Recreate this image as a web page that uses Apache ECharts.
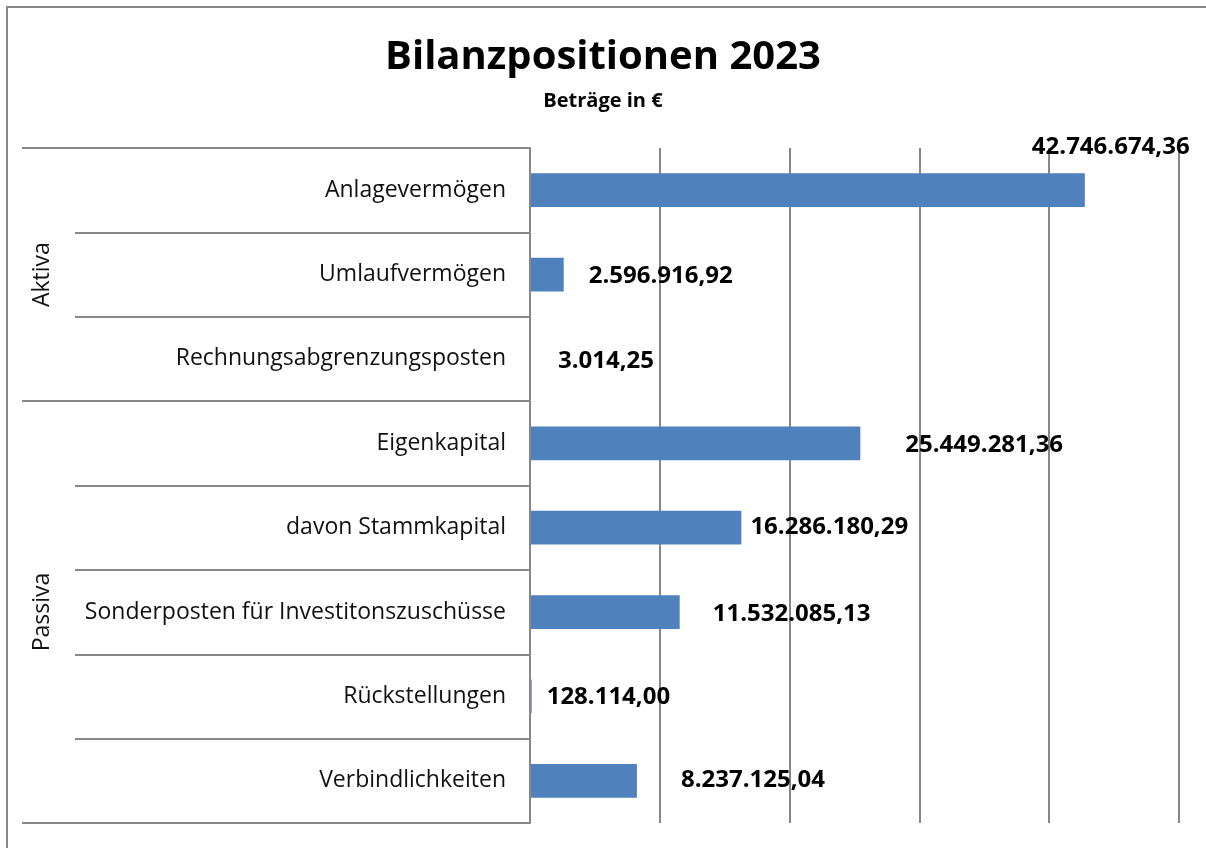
<!DOCTYPE html>
<html lang="de">
<head>
    <meta charset="UTF-8">
    <script src="https://cdn.jsdelivr.net/npm/echarts@6/dist/echarts.min.js"></script>
    <title>Bilanzpositionen 2023</title>
    <style>
        html, body { height: 100%; margin: 0; padding: 0; background: #fff; }
        #chart { width: 1206px; height: 848px; }
    </style>
</head>
<body>
<div id="chart"></div>
<script>
    // Daten
    var categories = [
        'Anlagevermögen', 'Umlaufvermögen', 'Rechnungsabgrenzungsposten',
        'Eigenkapital', 'davon Stammkapital', 'Sonderposten für Investitonszuschüsse',
        'Rückstellungen', 'Verbindlichkeiten'
    ];
    var values = [42746674.36, 2596916.92, 3014.25, 25449281.36, 16286180.29, 11532085.13, 128114.00, 8237125.04];
    var groups = ['Aktiva', 'Passiva'];
    var groupSizes = [3, 5];

    // Label-Verschiebung wie im Original (Excel)
    var labelShift = [[-58, -43], [20, 2], [23, 2], [40, 2], [4, -1], [28, 2], [10, 1], [39, -1]];

    var FONT = 'Open Sans';
    var GRAY = '#878787';

    function fmtDE(v) {
        var parts = v.toFixed(2).split('.');
        parts[0] = parts[0].replace(/\B(?=(\d{3})+(?!\d))/g, '.');
        return parts[0] + ',' + parts[1];
    }

    // Gruppengrenzen und Mitten (Index)
    var groupStarts = [], groupMids = {};
    var acc = 0;
    groupSizes.forEach(function (n, i) {
        groupStarts.push(acc);
        groupMids[acc + Math.floor(n / 2)] = groups[i];
        acc += n;
    });

    var chart = echarts.init(document.getElementById('chart'));
    var option = {
        backgroundColor: '#ffffff',
        animation: false,
        title: {
            text: 'Bilanzpositionen 2023',
            subtext: 'Beträge in €',
            left: 'center',
            top: 33,
            itemGap: 13,
            textStyle: { fontFamily: FONT, fontSize: 40, fontWeight: 'bold', color: '#000' },
            subtextStyle: { fontFamily: FONT, fontSize: 20, fontWeight: 'bold', color: '#000' }
        },
        graphic: [{
            type: 'rect',
            shape: { x: 7, y: 7, width: 1400, height: 1000 },
            style: { fill: null, stroke: GRAY, lineWidth: 2 },
            silent: true
        }],
        grid: { left: 530, right: 27, top: 148, bottom: 25 },
        xAxis: {
            type: 'value',
            min: 0,
            max: 50000000,
            interval: 10000000,
            axisLabel: { show: false },
            axisLine: { show: false },
            axisTick: { show: false },
            splitLine: { show: true, lineStyle: { color: GRAY, width: 2 } }
        },
        yAxis: [{
            type: 'category',
            data: categories,
            inverse: true,
            z: 3,
            axisLine: { show: true, lineStyle: { color: GRAY, width: 2 } },
            axisTick: { show: true, length: 455, lineStyle: { color: GRAY, width: 2 } },
            axisLabel: { fontFamily: FONT, fontSize: 23, color: '#111', margin: 24 }
        }, {
            type: 'category',
            data: categories,
            inverse: true,
            position: 'left',
            axisLine: { show: false },
            axisTick: {
                show: true, length: 508,
                interval: function (idx) { return groupStarts.indexOf(idx) >= 0; },
                lineStyle: { color: GRAY, width: 2 }
            },
            axisLabel: {
                show: true,
                interval: function (idx) { return groupMids[idx] !== undefined; },
                formatter: function (v, idx) { return groupMids[idx] || ''; },
                rotate: 90,
                margin: 476,
                fontFamily: FONT, fontSize: 23, color: '#111'
            }
        }],
        series: [{
            type: 'bar',
            yAxisIndex: 0,
            data: values.map(function (v, i) {
                return {
                    value: v,
                    label: { offset: labelShift[i] }
                };
            }),
            barCategoryGap: '60%',
            itemStyle: { color: '#4F81BD' },
            label: {
                show: true,
                position: 'right',
                distance: 5,
                fontFamily: FONT,
                fontSize: 24,
                fontWeight: 'bold',
                color: '#000',
                formatter: function (p) { return fmtDE(p.value); }
            }
        }]
    };
    chart.setOption(option);
</script>
</body>
</html>
